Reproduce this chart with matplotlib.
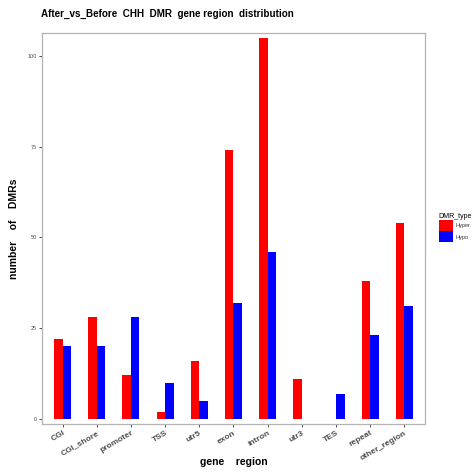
import numpy as np
import matplotlib
matplotlib.use("Agg")
import matplotlib.pyplot as plt
from matplotlib.patches import Patch

plt.rcParams['font.family'] = ['Liberation Sans', 'DejaVu Sans']

regions = ['CGI', 'CGI_shore', 'promoter', 'TSS', 'utr5', 'exon', 'intron',
           'utr3', 'TES', 'repeat', 'other_region']
hyper = [22, 28, 12, 2, 16, 74, 105, 11, 0, 38, 54]
hypo = [20, 20, 28, 10, 5, 32, 46, 0, 7, 23, 31]
dmr_types = ['Hyper', 'Hypo']
colors = ['#ff0000', '#0000ff']
yticks = [0, 25, 50, 75, 100]

fig = plt.figure(figsize=(4.74, 4.74), dpi=100)
ax = fig.add_axes([0.0886, 0.1055, 0.808, 0.8245])

x = np.arange(len(regions))
w = 0.25
ax.bar(x - w / 2, hyper, width=w, color=colors[0], linewidth=0)
ax.bar(x + w / 2, hypo, width=w, color=colors[1], linewidth=0)

ax.set_xlim(-0.6, len(regions) - 0.4)
ax.set_ylim(-1.4, 106.3)
ax.set_yticks(yticks)
ax.set_yticklabels([str(v) for v in yticks], fontsize=4, color='#4d4d4d')
ax.set_xticks(x)
ax.set_xticklabels(regions, rotation=30, ha='right', rotation_mode='anchor',
                   fontsize=6, fontweight='bold', color='#4d4d4d')
ax.tick_params(axis='both', length=2, width=0.6, color='#333333', pad=1.5)
ax.tick_params(axis='x', pad=2)
for s in ax.spines.values():
    s.set_color('#b3b3b3')
    s.set_linewidth(0.9)

# axis titles placed directly (ggplot-like positions)
fig.text(0.4926, 0.025, 'gene    region', fontsize=7.5, fontweight='bold',
         ha='center', va='center')
fig.text(0.030, 0.518, 'number    of    DMRs', fontsize=7.5, fontweight='bold',
         ha='center', va='center', rotation=90)
fig.text(0.0865, 0.971, 'After_vs_Before  CHH  DMR  gene region  distribution',
         fontsize=7.1, fontweight='bold', va='center', ha='left')

handles = [Patch(facecolor=c, edgecolor='none') for c in colors]
leg = fig.legend(handles, dmr_types, title='DMR_type', loc='upper left',
                 bbox_to_anchor=(0.92, 0.556), frameon=False, fontsize=4,
                 title_fontsize=5, handlelength=2.5, handleheight=2.7,
                 handletextpad=0.5, labelspacing=0.0, borderpad=0)
leg._legend_box.align = 'left'
for t in leg.get_texts():
    t.set_color('#333333')

fig.savefig('out.png', dpi=100)
